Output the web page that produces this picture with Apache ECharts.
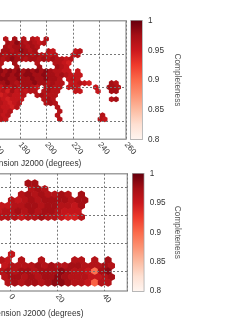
<!DOCTYPE html>
<html><head><meta charset="utf-8">
<style>html,body{margin:0;padding:0;background:#fff}#c{width:240px;height:320px}</style>
<script src="https://cdn.jsdelivr.net/npm/echarts@6/dist/echarts.min.js"></script></head>
<body><div id="c"></div>
<script>
const xTitle = "Right Ascension J2000 (degrees)";
const barTitle = "Completeness";
const reds = ['#fff5f0','#fee0d2','#fcbba1','#fc9272','#fb6a4a','#ef3b2c','#cb181d','#a50f15','#67000d'];
// Upper panel: row declination, then completeness in hundredths (0 = no cell)
const topDec = [69,66.6,64.2,61.8,59.4,57,54.6,52.2,49.8,47.4,45,42.6,40.2,37.8,35.4,33,30.6,28.2,25.8,23.4,21];
const topCells = [
[0,0,96,0,97,0,96,0,96,95,0,96],
[0,0,97,96,98,97,96,97,96,95,96],
[0,0,97,96,97,97,97,96,97,96],
[0,97,97,96,97,98,97,96,97,0,0,96,95,0,0,0,0,95,96],
[97,97,96,97,97,96,97,97,96,97,96,96,95,96,0,0,0,95,96],
[97,96,97,98,97,97,96,97,97,96,97,96,97,96,96,95,96],
[97,96,0,0,97,0,0,0,0,96,0,0,0,96,96,95,94],
[96,0,0,0,97,0,0,0,0,97,0,0,0,97,96,95],
[97,98,97,98,97,98,97,98,97,98,97,98,97,96,96,95,95,0,95],
[98,97,98,97,98,97,98,98,97,97,98,97,97,96,97,96,95,95,95],
[97,98,98,97,97,98,97,97,98,97,97,98,97,97,96,0,95,96,95],
[97,97,98,97,96,97,97,97,98,97,97,96,97,96,96,0,95,95,96,95,94,0,0,0,0,97,96],
[96,95,97,96,97,96,97,97,96,95,0,96,97,96,96,0,95,96,95,0,0,0,95,0,0,97,97,96],
[95,96,94,97,95,96,95,96,96,0,96,97,96,96,0,0,0,95,95,0,0,0,95,0,0,97,97],
[95,94,95,96,95,95,96,0,0,96,97,96,96,96],
[96,95,94,95,95,95,0,0,0,0,96,97,96,0,0,0,0,0,0,0,0,0,0,0,0,96,97],
[95,96,95,94,95,96,0,0,0,0,0,96,97,96],
[96,95,95,94,96,0,0,0,0,0,0,0,0,96],
[95,96,95,96,0,0,0,0,0,0,0,0,0,0,96],
[96,95,96,0,0,0,0,0,0,0,0,0,0,96,0,0,0,0,0,0,0,0,0,96],
[96,96,95,0,0,0,0,0,0,0,0,0,0,0,96,0,0,0,0,0,0,0,0,96,95]
];
// Lower panel, same layout
const lowDec = [31.4,29.4,27.4,25.4,23.4,21.4,19.4,6.1,4,2,0,-2,-4];
const lowCells = [
[0,0,0,0,0,97,97],
[0,0,0,0,0,96,97,96],
[0,0,0,0,96,97,96,97,96,96,97,96,0,97],
[0,0,96,95,96,97,96,97,97,97,97,96,97,97],
[96,95,95,96,96,97,97,96,97,97,96,96,95,97],
[95,96,96,97,96,97,96,97,97,96,95,95,95],
[95,96,96,96,95,96,96,97,96,96,95,94,94,96],
[0,0,95],
[0,96,95,0,96,0,0,96,0,0,0,0,96,96,0,96,0,97],
[0,95,96,96,96,96,97,96,97,96,96,97,97,96,96,96,97,96],
[0,96,97,96,97,97,96,97,97,97,98,97,96,96,95,89,97,98],
[0,96,97,97,96,97,96,97,97,98,97,96,96,96,95,95,96,97],
[0,0,96,97,96,97,97,96,97,98,98,97,96,96,95,90,96,96]
];

function cells(decs, rows, startEven, startOdd, step) {
  const out = [];
  rows.forEach((r, i) => r.forEach((v, k) => {
    if (v) out.push([(i % 2 ? startOdd : startEven) + k * step, decs[i], (v + 0.5) / 100]);
  }));
  return out;
}
const topData = cells(topDec, topCells, 162.4, 164.1, 3.4);
const lowData = cells(lowDec, lowCells, -6.69, -5.26, 2.85);
const hex = 'path://M0,-10 L8.66,-5 L8.66,5 L0,10 L-8.66,5 L-8.66,-5 Z';
const gridLine = {show:true, lineStyle:{color:'#777', width:1, type:[2,2]}};

function xAxis(g, min, max, interval, nameGap) {
  return {type:'value', gridIndex:g, min, max, interval, z:5, name:xTitle, nameLocation:'middle', nameGap,
    nameTextStyle:{fontFamily:'Liberation Sans', fontSize:8.3, color:'#333'},
    axisLine:{show:false}, axisTick:{show:false}, splitLine:gridLine,
    axisLabel:{show:true, rotate:-50, margin:4, showMaxLabel: max % interval === 0, fontFamily:'Liberation Sans', fontSize:8, color:'#333'}};
}
function yAxis(g, min, max, ticks) {
  return {type:'value', gridIndex:g, min, max, z:5, axisLine:{show:false},
    axisTick:{show:false, customValues:ticks}, splitLine:gridLine, axisLabel:{show:false, customValues:ticks}};
}
function barX(g){return {type:'category', gridIndex:g, data:['c'], show:false};}
function barY(g, gap){return {type:'value', gridIndex:g, position:'right', min:0.8, max:1, interval:0.05,
  splitLine:{show:false}, axisLine:{show:false}, axisTick:{show:false},
  axisLabel:{margin:6, fontFamily:'Liberation Sans', fontSize:8.2, color:'#333', formatter:v=>String(+v.toFixed(2))},
  name:barTitle, nameLocation:'middle', nameRotate:-90, nameGap:gap,
  nameTextStyle:{fontFamily:'Liberation Sans', fontSize:8.3, color:'#555'}};}
function barSeries(i){
  return {type:'bar', xAxisIndex:i, yAxisIndex:i, data:[1], barWidth:'100%', silent:true,
    itemStyle:{color:{type:'linear',x:0,y:1,x2:0,y2:0,colorStops:reds.map((c,j)=>({offset:j/(reds.length-1),color:c}))}}};
}
const border = {show:true, borderColor:'#a0a0a0', borderWidth:1.4, backgroundColor:'#fff', outerBoundsMode:'none', containLabel:false};
const chart = echarts.init(document.getElementById('c'), null, {renderer:'canvas'});
chart.setOption({
  animation:false,
  grid:[
    {left:-86, width:212, top:20.7, height:118.6, ...border},
    {left:-83, width:210.3, top:173.7, height:117.3, ...border},
    {left:131, width:11, top:20.7, height:118.6, ...border},
    {left:132.7, width:11, top:173.7, height:117.3, ...border}
  ],
  xAxis:[xAxis(0,100,260,20,12), xAxis(1,-40,50,20,15), barX(2), barX(3)],
  yAxis:[yAxis(0,9,80,[20,40,60]), yAxis(1,-7,34.86,[0,10,20,30]), barY(2,31), barY(3,29.5)],
  visualMap:{show:false, type:'continuous', min:0.8, max:1, dimension:2, seriesIndex:[0,1], inRange:{color:reds}},
  series:[
    {type:'scatter', xAxisIndex:0, yAxisIndex:0, data:topData, symbol:hex, symbolSize:[5.4,6.1], silent:true, itemStyle:{opacity:1}},
    {type:'scatter', xAxisIndex:1, yAxisIndex:1, data:lowData, symbol:hex, symbolSize:[7.2,8.2], silent:true, itemStyle:{opacity:1}},
    barSeries(2), barSeries(3)
  ]
});
</script></body></html>
